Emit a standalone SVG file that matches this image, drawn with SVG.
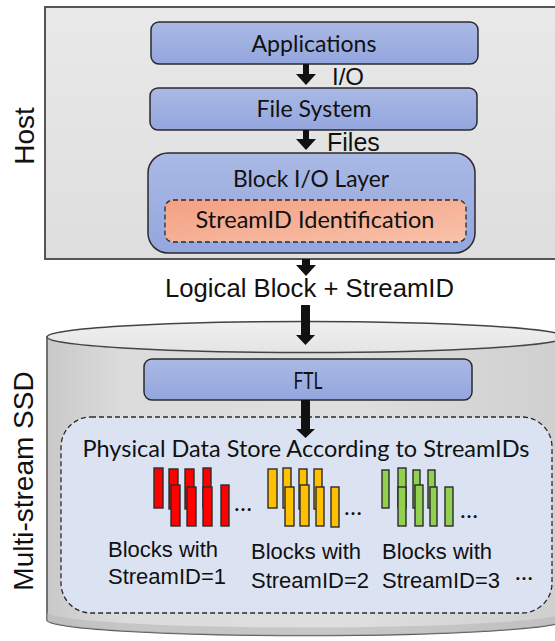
<svg xmlns="http://www.w3.org/2000/svg" width="555" height="641" viewBox="0 0 555 641">
  <defs>
    <linearGradient id="gHost" x1="0" y1="0" x2="0" y2="1">
      <stop offset="0" stop-color="#e9e9e9"/>
      <stop offset="1" stop-color="#dedede"/>
    </linearGradient>
    <linearGradient id="gBlue" x1="0" y1="0" x2="0" y2="1">
      <stop offset="0" stop-color="#aab9e4"/>
      <stop offset="1" stop-color="#93a6de"/>
    </linearGradient>
    <linearGradient id="gSalmon" x1="0" y1="0" x2="1" y2="1">
      <stop offset="0" stop-color="#f3a083"/>
      <stop offset="1" stop-color="#f8c2aa"/>
    </linearGradient>
    <linearGradient id="gBody" x1="0" y1="0" x2="1" y2="0">
      <stop offset="0" stop-color="#c9c9c9"/>
      <stop offset="0.15" stop-color="#dcdcdc"/>
      <stop offset="0.6" stop-color="#dedede"/>
      <stop offset="1" stop-color="#cfcfcf"/>
    </linearGradient>
    <linearGradient id="gTop" x1="0" y1="0" x2="0" y2="1">
      <stop offset="0" stop-color="#f0f0f0"/>
      <stop offset="1" stop-color="#e4e4e4"/>
    </linearGradient>
  </defs>
  <style>
    .layer { fill: url(#gBlue); stroke: #2b2b2b; stroke-width: 1.5; }
    .cal { font-family: Lato, "Open Sans", sans-serif; font-size: 24px; fill: #111; text-anchor: middle; }
    .ari { font-family: "Liberation Sans", Arial, sans-serif; fill: #111; }
    .arrow { fill: #111; }
    .red { fill: #ff0000; stroke: #2b2b2b; stroke-width: 1.4; }
    .yel { fill: #ffc000; stroke: #2b2b2b; stroke-width: 1.4; }
    .grn { fill: #92d050; stroke: #2b2b2b; stroke-width: 1.4; }
  </style>

  <rect width="555" height="641" fill="#ffffff"/>

  <!-- Host -->
  <g id="host">
    <rect x="45" y="7" width="530" height="252" fill="url(#gHost)" stroke="#555" stroke-width="2"/>
    <text class="ari" font-size="28" text-anchor="middle" transform="translate(34,136) rotate(-90)">Host</text>
  </g>

  <g id="applications">
    <rect class="layer" x="151" y="22" width="327" height="42" rx="8"/>
    <text class="cal" x="314" y="52" textLength="125" lengthAdjust="spacingAndGlyphs">Applications</text>
  </g>

  <g id="file-system">
    <rect class="layer" x="150" y="88" width="327" height="42" rx="8"/>
    <text class="cal" x="314" y="117" textLength="115" lengthAdjust="spacingAndGlyphs">File System</text>
  </g>

  <g id="block-io-layer">
    <rect class="layer" x="148" y="153" width="327" height="100" rx="20"/>
    <text class="cal" x="311" y="187" textLength="156" lengthAdjust="spacingAndGlyphs">Block I/O Layer</text>
  </g>

  <g id="streamid-identification">
    <rect x="165" y="200" width="301" height="42" rx="8" fill="url(#gSalmon)" stroke="#2b2b2b" stroke-width="1.3" stroke-dasharray="5,3"/>
    <text class="cal" x="315" y="228" textLength="239" lengthAdjust="spacingAndGlyphs">StreamID Identification</text>
  </g>

  <!-- Multi-stream SSD cylinder -->
  <g id="ssd">
    <path d="M47,337 L47,620 A259,15.5 0 0 0 565,620 L565,337 Z" fill="url(#gBody)" stroke="#555" stroke-width="1.6"/>
    <path d="M47,612 L47,620 A259,15.5 0 0 0 565,620 L565,612 A259,15.5 0 0 1 47,612 Z" fill="#b8b8b8" opacity="0.6"/>
    <ellipse cx="306" cy="337" rx="259" ry="15.5" fill="url(#gTop)" stroke="#444" stroke-width="1.4"/>
    <text class="ari" font-size="28" text-anchor="middle" transform="translate(33,481) rotate(-90)">Multi-stream SSD</text>
  </g>

  <g id="ftl">
    <rect class="layer" x="144" y="359" width="328" height="41" rx="8"/>
    <text class="cal" x="308" y="389" textLength="29" lengthAdjust="spacingAndGlyphs">FTL</text>
  </g>

  <g id="data-store">
    <rect x="61" y="417" width="491" height="196" rx="30" fill="#dbe3f3" stroke="#2b2b2b" stroke-width="1.3" stroke-dasharray="5,3"/>
    <text class="cal" x="306" y="457" textLength="447" lengthAdjust="spacingAndGlyphs">Physical Data Store According to StreamIDs</text>

    <!-- stream 1 blocks -->
    <g id="stream-1">
      <rect class="red" x="154" y="468" width="9" height="40"/>
      <rect class="red" x="169" y="469" width="9" height="40"/>
      <rect class="red" x="185" y="469" width="9" height="40"/>
      <rect class="red" x="203" y="468" width="8" height="40"/>
      <rect class="red" x="171" y="485" width="9" height="41"/>
      <rect class="red" x="187" y="487" width="9" height="39"/>
      <rect class="red" x="203" y="487" width="9" height="39"/>
      <rect class="red" x="221" y="485" width="8" height="41"/>
      <text class="cal" x="243" y="511" text-anchor="middle">…</text>
      <text class="ari" font-size="22" x="108" y="557">Blocks with</text>
      <text class="ari" font-size="22" x="108" y="584">StreamID=1</text>
    </g>

    <!-- stream 2 blocks -->
    <g id="stream-2">
      <rect class="yel" x="268" y="469" width="9" height="39"/>
      <rect class="yel" x="283" y="468" width="8" height="40"/>
      <rect class="yel" x="299" y="469" width="8" height="40"/>
      <rect class="yel" x="314" y="469" width="8" height="40"/>
      <rect class="yel" x="285" y="487" width="9" height="39"/>
      <rect class="yel" x="300" y="485" width="9" height="41"/>
      <rect class="yel" x="316" y="487" width="8" height="39"/>
      <rect class="yel" x="331" y="487" width="8" height="40"/>
      <text class="cal" x="353" y="515" text-anchor="middle">…</text>
      <text class="ari" font-size="22" x="251" y="559">Blocks with</text>
      <text class="ari" font-size="22" x="251" y="588">StreamID=2</text>
    </g>

    <!-- stream 3 blocks -->
    <g id="stream-3">
      <rect class="grn" x="382" y="470" width="7" height="38"/>
      <rect class="grn" x="398" y="468" width="8" height="40"/>
      <rect class="grn" x="413" y="470" width="7" height="38"/>
      <rect class="grn" x="428" y="470" width="7" height="38"/>
      <rect class="grn" x="398" y="487" width="8" height="39"/>
      <rect class="grn" x="415" y="485" width="8" height="41"/>
      <rect class="grn" x="430" y="487" width="7" height="39"/>
      <rect class="grn" x="445" y="487" width="8" height="39"/>
      <text class="cal" x="469" y="518" text-anchor="middle">…</text>
      <text class="ari" font-size="22" x="382" y="559">Blocks with</text>
      <text class="ari" font-size="22" x="382" y="588">StreamID=3</text>
    </g>

    <text class="cal" x="524" y="580" text-anchor="middle">…</text>
  </g>

  <!-- connectors -->
  <g id="connectors">
    <path class="arrow" d="M303,64 H309 V74 H316 L306,85 L296,74 H303 Z"/>
    <path class="arrow" d="M303,130 H309 V139 H316 L306,150 L296,139 H303 Z"/>
    <path class="arrow" d="M302,259 H310 V265 H316 L306,276 L296,265 H302 Z"/>
    <path class="arrow" d="M301,305 H310 V335 H315 L305.5,345 L296,335 H301 Z"/>
    <path class="arrow" d="M301,400 H310 V429 H315 L305.5,438 L296,429 H301 Z"/>
    <text class="ari" font-size="24" x="332" y="85">I/O</text>
    <text class="ari" font-size="25" x="327" y="151">Files</text>
    <text class="ari" font-size="25.5" x="309.5" y="297" text-anchor="middle" textLength="289" lengthAdjust="spacingAndGlyphs">Logical Block + StreamID</text>
  </g>
</svg>
